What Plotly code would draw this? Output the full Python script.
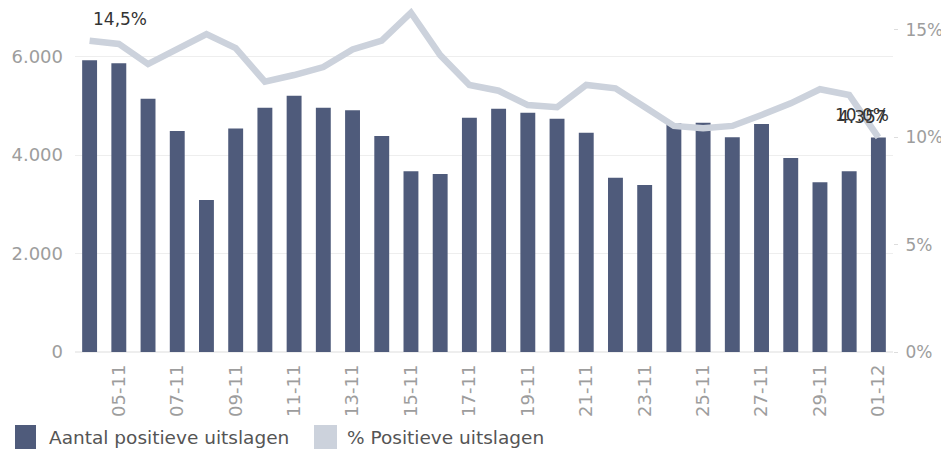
import plotly.graph_objects as go

# ---- data ----
dates = ["04-11", "05-11", "06-11", "07-11", "08-11", "09-11", "10-11", "11-11",
         "12-11", "13-11", "14-11", "15-11", "16-11", "17-11", "18-11", "19-11",
         "20-11", "21-11", "22-11", "23-11", "24-11", "25-11", "26-11", "27-11",
         "28-11", "29-11", "30-11", "01-12"]
positives = [5930, 5865, 5146, 4490, 3088, 4540, 4963, 5208, 4963, 4912, 4388, 3671,
             3616, 4760, 4943, 4862, 4740, 4456, 3541, 3393, 4646, 4659, 4361, 4632,
             3941, 3448, 3671, 4357]
pct_positive = [14.5, 14.35, 13.41, 14.10, 14.81, 14.15, 12.59, 12.90, 13.27, 14.09,
                14.50, 15.80, 13.83, 12.44, 12.17, 11.50, 11.40, 12.44, 12.28, 11.41,
                10.53, 10.42, 10.53, 11.04, 11.58, 12.24, 11.97, 10.0]
left_ticks = [0, 2000, 4000, 6000]
left_ticktext = ["0", "2.000", "4.000", "6.000"]
right_ticks = [0, 5, 10, 15]
x_ticks = dates[1::2]
legend_names = ["Aantal positieve uitslagen", "% Positieve uitslagen"]

BAR_COLOR = "#4f5b7b"
LINE_COLOR = "#ccd2dc"
AXIS_TEXT = "#9d9d9d"
FONT = "DejaVu Sans"

# page body has an 8px margin, so the figure is drawn 8px in from the top-left
W, H = 941, 446
ML, MR, MT, MB = 67, 56, 0, 102
plot_w = W - ML - MR
plot_h = H - MT - MB

fig = go.Figure()
fig.add_trace(go.Bar(x=dates, y=positives, marker_color=BAR_COLOR,
                     marker_line_width=0, name=legend_names[0], yaxis="y"))
fig.add_trace(go.Scatter(x=dates, y=pct_positive, mode="lines",
                         line=dict(color=LINE_COLOR, width=6.5),
                         name=legend_names[1], yaxis="y2"))

# labels from data
first_lbl = f"{pct_positive[0]:.1f}".replace(".", ",") + "%"
last_lbl = f"{pct_positive[-1]:.1f}%"
last_bar_lbl = f"{positives[-1]:,}".replace(",", ".")

ann_font = dict(family=FONT, size=17, color="#333333")
fig.add_annotation(x=dates[0], y=pct_positive[0], xref="x", yref="y2",
                   text=first_lbl, showarrow=False, xanchor="left", yanchor="middle",
                   xshift=1, yshift=22, font=ann_font)
fig.add_annotation(x=dates[-1], y=pct_positive[-1], xref="x", yref="y2",
                   text=last_lbl, showarrow=False, xanchor="right", yanchor="middle",
                   xshift=13, yshift=22, font=ann_font)
fig.add_annotation(x=dates[-1], y=pct_positive[-1], xref="x", yref="y2",
                   text=last_bar_lbl, showarrow=False, xanchor="right", yanchor="middle",
                   xshift=11, yshift=20, font=ann_font)

# manual legend (layout decoration), pixel positions in figure coordinates
def px_x(px):
    return (px - ML) / plot_w

def px_y(py):
    return (H - MB - py) / plot_h

legend_items = [(7, 28, 39, BAR_COLOR, legend_names[0]),
                (306, 329, 337, LINE_COLOR, legend_names[1])]
for x0, x1, tx, col, name in legend_items:
    fig.add_shape(type="rect", xref="paper", yref="paper",
                  x0=px_x(x0), x1=px_x(x1), y0=px_y(441), y1=px_y(417),
                  fillcolor=col, line_width=0)
    fig.add_annotation(xref="paper", yref="paper", x=px_x(tx), y=px_y(429.5),
                       text=name, showarrow=False, xanchor="left", yanchor="middle",
                       font=dict(family=FONT, size=18.5, color="#555555"))

fig.update_layout(
    width=W, height=H,
    margin=dict(l=ML, r=MR, t=MT, b=MB, pad=0),
    paper_bgcolor="white", plot_bgcolor="white",
    showlegend=False,
    bargap=0.49,
    font=dict(family=FONT, color=AXIS_TEXT),
    xaxis=dict(type="category", range=[-0.5, len(dates) - 0.5],
               tickmode="array", tickvals=x_ticks, ticktext=x_ticks,
               tickangle=-90, showgrid=False, showline=False, ticks="",
               ticklabelstandoff=8,
               tickfont=dict(family=FONT, size=18, color=AXIS_TEXT)),
    yaxis=dict(range=[0, plot_h / 0.04922], tickmode="array",
               tickvals=left_ticks, ticktext=left_ticktext,
               showgrid=True, gridcolor="#eeeeee", gridwidth=1,
               zeroline=True, zerolinecolor="#eeeeee", showline=False,
               ticks="", ticklabelstandoff=11,
               tickfont=dict(family=FONT, size=18, color=AXIS_TEXT)),
    yaxis2=dict(range=[0, plot_h / 21.47], overlaying="y", side="right",
                tickmode="array", tickvals=right_ticks,
                ticktext=[f"{v}%" for v in right_ticks],
                showgrid=False, zeroline=False, showline=False,
                ticks="outside", ticklen=4, tickcolor="#dddddd",
                ticklabelstandoff=4,
                tickfont=dict(family=FONT, size=17, color=AXIS_TEXT)),
)

fig.write_html("out.html")
